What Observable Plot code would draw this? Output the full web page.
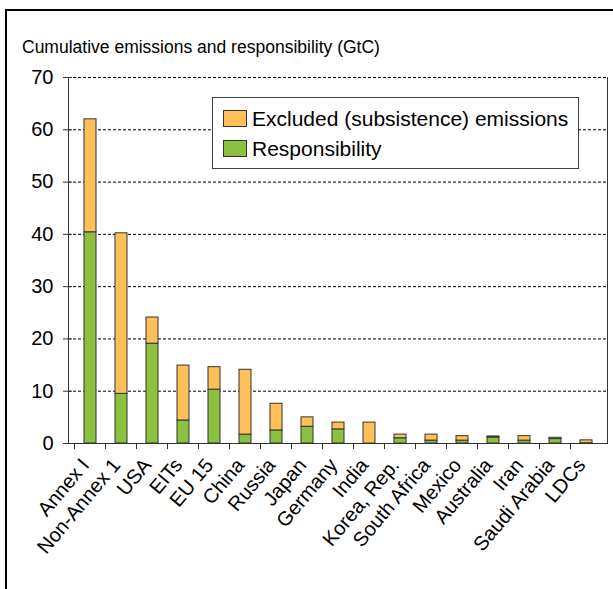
<!DOCTYPE html>
<html>
<head>
<meta charset="utf-8">
<script src="https://cdn.jsdelivr.net/npm/d3@7"></script>
<script src="https://cdn.jsdelivr.net/npm/@observablehq/plot@0.6"></script>
<style>
  html, body { margin: 0; padding: 0; background: #fff; }
  body { width: 613px; height: 589px; position: relative; overflow: hidden; font-family: "Liberation Sans", Arial, sans-serif; }
  #chart { position: absolute; left: 0; top: 0; }
  #frame { position: absolute; left: 5px; top: 9px; width: 700px; height: 700px; border-top: 2px solid #000; border-left: 2px solid #000; pointer-events: none; }
  #title { position: absolute; left: 22px; top: 38px; font-size: 17.5px; line-height: 18px; color: #000; white-space: nowrap; }
  #legend { position: absolute; left: 212px; top: 97px; width: 367px; height: 72px; box-sizing: border-box; border: 1px solid #404040; background: #fff; }
  .sw { position: absolute; left: 10px; width: 24px; height: 17px; box-sizing: border-box; border: 1px solid #333; }
  .lt { position: absolute; left: 39px; font-size: 21px; line-height: 21px; white-space: nowrap; color: #000; }
</style>
</head>
<body>
<div id="chart"></div>
<div id="frame"></div>
<div id="title"></div>
<div id="legend"></div>
<script>
const categories = ["Annex I", "Non-Annex 1", "USA", "EITs", "EU 15", "China", "Russia", "Japan", "Germany", "India", "Korea, Rep.", "South Africa", "Mexico", "Australia", "Iran", "Saudi Arabia", "LDCs"];
const responsibility = [40.4, 9.5, 19.1, 4.4, 10.3, 1.7, 2.5, 3.2, 2.7, 0.0, 1.0, 0.55, 0.55, 1.15, 0.55, 0.85, 0.05];
const excluded = [21.6, 30.7, 5.0, 10.5, 4.3, 12.4, 5.1, 1.8, 1.3, 4.0, 0.7, 1.15, 0.85, 0.2, 0.85, 0.25, 0.55];
const yTicks = [0, 10, 20, 30, 40, 50, 60, 70];
const seriesNames = ["Excluded (subsistence) emissions", "Responsibility"];
const seriesColors = ["#FFC05A", "#8CC13F"];
const titleText = "Cumulative emissions and responsibility (GtC)";

const rows = [];
categories.forEach((c, i) => rows.push({cat: c, series: seriesNames[1], value: responsibility[i]}));
categories.forEach((c, i) => rows.push({cat: c, series: seriesNames[0], value: excluded[i]}));

const padInner = 0.62;

function frameLines(index, scales, values, dims) {
  const g = d3.create("svg:g").attr("stroke", "#333").attr("stroke-width", 1);
  const {width, height, marginLeft, marginRight, marginTop, marginBottom} = dims;
  const y0 = height - marginBottom;
  g.append("line").attr("x1", marginLeft + 0.5).attr("x2", marginLeft + 0.5).attr("y1", marginTop).attr("y2", y0);
  g.append("line").attr("x1", width - marginRight - 0.5).attr("x2", width - marginRight - 0.5).attr("y1", marginTop).attr("y2", y0);
  const x = scales.x;
  const step = x(categories[1]) - x(categories[0]);
  const off = step * padInner / 2;
  categories.forEach(c => {
    const bx = Math.round(x(c) - off) + 0.5;
    g.append("line").attr("x1", bx).attr("x2", bx).attr("y1", y0).attr("y2", y0 + 6);
  });
  return g.node();
}

const plot = Plot.plot({
  width: 613,
  height: 589,
  marginLeft: 68,
  marginRight: 5,
  marginTop: 77,
  marginBottom: 146,
  style: {background: "transparent", fontFamily: "'Liberation Sans', Arial, sans-serif", color: "#000"},
  x: {domain: categories, paddingInner: padInner, paddingOuter: padInner / 2, label: null},
  y: {domain: [0, 70], label: null},
  color: {domain: seriesNames, range: seriesColors},
  marks: [
    Plot.ruleY(yTicks.filter(d => d > 0), {stroke: "#000", strokeDasharray: "3,2", strokeWidth: 1}),
    Plot.barY(rows, {x: "cat", y: "value", fill: "series", stroke: "#333", strokeWidth: 1}),
    Plot.ruleY([0], {stroke: "#333"}),
    frameLines,
    Plot.axisY(yTicks, {tickSize: 9, dx: 4, tickPadding: 10, fontSize: 20, stroke: "#333", label: null}),
    Plot.axisX({tickSize: 0, tickRotate: -50, tickPadding: 18, dx: -5, fontSize: 20, label: null})
  ]
});
document.getElementById("chart").appendChild(plot);

document.getElementById("title").textContent = titleText;
const legend = document.getElementById("legend");
const tops = [12, 42];
const textTops = [10, 40];
seriesNames.forEach((name, i) => {
  const sw = document.createElement("div");
  sw.className = "sw";
  sw.style.top = tops[i] + "px";
  sw.style.background = seriesColors[i];
  legend.appendChild(sw);
  const t = document.createElement("div");
  t.className = "lt";
  t.style.top = textTops[i] + "px";
  t.textContent = name;
  legend.appendChild(t);
});
</script>
</body>
</html>
